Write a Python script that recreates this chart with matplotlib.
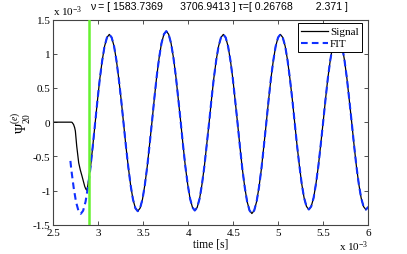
import matplotlib
matplotlib.use("Agg")
import matplotlib.pyplot as plt
from matplotlib.lines import Line2D

# ---------------- data (time in ms, amplitude in units of 1e-3) ----------------
fit_t = [2.690, 2.699, 2.726, 2.752, 2.779,
         2.805, 2.831, 2.858, 2.884, 2.911, 2.937, 2.963, 2.990, 3.016, 3.043, 3.069, 3.096,
         3.122, 3.148, 3.175, 3.201, 3.227, 3.254, 3.280, 3.306, 3.333, 3.359, 3.385, 3.412,
         3.438, 3.464, 3.491, 3.517, 3.544, 3.570, 3.597, 3.623, 3.649, 3.676, 3.702, 3.729,
         3.755, 3.781, 3.808, 3.834, 3.861, 3.887, 3.914, 3.940, 3.966, 3.993, 4.019, 4.046,
         4.072, 4.098, 4.125, 4.151, 4.178, 4.204, 4.231, 4.257, 4.283, 4.310, 4.336, 4.363,
         4.389, 4.415, 4.442, 4.468, 4.495, 4.521, 4.548, 4.574, 4.600, 4.627, 4.653, 4.680,
         4.706, 4.732, 4.759, 4.785, 4.812, 4.838, 4.865, 4.891, 4.917, 4.944, 4.970, 4.997,
         5.023, 5.049, 5.076, 5.102, 5.128, 5.155, 5.181, 5.207, 5.234, 5.260, 5.286, 5.313,
         5.339, 5.365, 5.392, 5.418, 5.445, 5.471, 5.498, 5.524, 5.550, 5.577, 5.603, 5.630,
         5.656, 5.682, 5.709, 5.735, 5.762, 5.788, 5.815, 5.841, 5.867, 5.894, 5.920, 5.947,
         5.973, 6.000]
fit_v = [-0.567, -0.685, -0.957, -1.165, -1.296,
         -1.341, -1.296, -1.165, -0.957, -0.685, -0.368, -0.029, 0.311, 0.628, 0.900, 1.108, 1.239,
         1.284, 1.240, 1.111, 0.905, 0.637, 0.325, -0.010, -0.344, -0.656, -0.924, -1.130, -1.259,
         -1.303, -1.258, -1.127, -0.917, -0.644, -0.327, 0.015, 0.356, 0.673, 0.946, 1.156, 1.287,
         1.332, 1.287, 1.156, 0.948, 0.676, 0.359, 0.020, -0.320, -0.637, -0.909, -1.117, -1.248,
         -1.293, -1.249, -1.120, -0.916, -0.649, -0.338, -0.005, 0.329, 0.640, 0.907, 1.111, 1.240,
         1.284, 1.239, 1.108, 0.900, 0.629, 0.313, -0.027, -0.366, -0.682, -0.953, -1.161, -1.292,
         -1.337, -1.292, -1.161, -0.953, -0.682, -0.366, -0.027, 0.313, 0.629, 0.900, 1.108, 1.239,
         1.284, 1.240, 1.112, 0.909, 0.644, 0.335, 0.003, -0.329, -0.638, -0.903, -1.106, -1.234,
         -1.278, -1.234, -1.107, -0.903, -0.639, -0.330, 0.001, 0.332, 0.641, 0.905, 1.109, 1.236,
         1.280, 1.236, 1.109, 0.905, 0.640, 0.331, 0.000, -0.331, -0.640, -0.905, -1.109, -1.236,
         -1.280, -1.240]

# signal onset before it merges with the oscillation
onset_t = [2.500, 2.700, 2.708, 2.725, 2.737, 2.745, 2.752, 2.760, 2.771, 2.782,
           2.800, 2.819, 2.835, 2.849, 2.860, 2.871, 2.882, 2.893, 2.902]
onset_v = [0.000, 0.000, -0.003, -0.034, -0.080, -0.130, -0.230, -0.350, -0.470, -0.595,
           -0.700, -0.790, -0.873, -0.940, -0.976, -0.996, -0.940, -0.840, -0.740]
merge_t = 2.91

marker_t = 2.9

nu_vals = ["1583.7369", "3706.9413"]
tau_vals = ["0.26768", "2.371"]

xticks = [2.5, 3.0, 3.5, 4.0, 4.5, 5.0, 5.5, 6.0]
xtick_labels = ["2.5", "3", "3.5", "4", "4.5", "5", "5.5", "6"]
yticks = [-1.5, -1.0, -0.5, 0.0, 0.5, 1.0, 1.5]
ytick_labels = ["-1.5", "-1", "-0.5", "0", "0.5", "1", "1.5"]

# signal = onset + oscillation part
sig_t = onset_t + [t for t in fit_t if t >= merge_t]
sig_v = onset_v + [v for t, v in zip(fit_t, fit_v) if t >= merge_t]

# ---------------- figure ----------------
plt.rcParams["mathtext.fontset"] = "custom"
plt.rcParams["mathtext.rm"] = "Liberation Serif"
plt.rcParams["mathtext.it"] = "Liberation Serif:italic"
plt.rcParams["axes.unicode_minus"] = False

serif = "Liberation Serif"
sans = "Liberation Sans"
fs = 8.0

fig = plt.figure(figsize=(4.07, 2.55), dpi=100)
ax = fig.add_axes([0.131, 0.115, 0.774, 0.804])

ax.plot(sig_t, sig_v, color="black", lw=0.9, zorder=2, label="Signal")
ax.plot(fit_t, fit_v, color="#1030ff", lw=1.5, ls=(0, (3.2, 2.0)), zorder=3, label="FIT")
ax.axvline(marker_t, color="#66f230", lw=1.8, zorder=4)

ax.set_xlim(2.5, 6.0)
ax.set_ylim(-1.5, 1.5)
ax.set_xticks(xticks)
ax.set_xticklabels(xtick_labels, family=serif, fontsize=fs)
ax.set_yticks(yticks)
ax.set_yticklabels(ytick_labels, family=serif, fontsize=fs)
ax.tick_params(direction="in", length=3, width=0.6, top=True, right=True,
               colors="#333333", labelcolor="black")
ax.tick_params(axis="x", pad=2.5)
ax.tick_params(axis="y", pad=2)
for s in ax.spines.values():
    s.set_color("#444444")
    s.set_linewidth(0.8)

ax.set_xlabel("time [s]", family=serif, fontsize=fs + 0.3, labelpad=0.5)
ax.set_ylabel(r"$\Psi^{(e)}_{20}$", fontsize=fs + 1.8, labelpad=0)

# exponent annotations
ax.text(0.0, 1.024, r"x 10$^{-3}$", transform=ax.transAxes, family=serif,
        fontsize=fs, ha="left", va="baseline")
ax.text(1.0, -0.122, r"x 10$^{-3}$", transform=ax.transAxes, family=serif,
        fontsize=fs, ha="right", va="baseline")

title = "ν = [ " + "      ".join(nu_vals) + " ] τ=[ " + "        ".join(tau_vals) + " ]"
ax.text(0.527, 1.05, title, transform=ax.transAxes, family=sans, fontsize=7.6,
        ha="center", va="baseline")

leg = ax.legend(handles=[Line2D([], [], color="black", lw=0.9),
                         Line2D([], [], color="#1030ff", lw=1.5, ls=(0, (3.2, 2.0)))],
                labels=["Signal", "FIT"], loc="upper right",
                bbox_to_anchor=(0.98, 0.982), prop={"family": serif, "size": fs},
                frameon=True, fancybox=False, framealpha=1, edgecolor="black",
                handlelength=2.4, handletextpad=0.2, borderpad=0.3,
                labelspacing=0.2, borderaxespad=0.0)
leg.get_frame().set_linewidth(0.7)

fig.savefig("out.png", dpi=100, facecolor="white")
